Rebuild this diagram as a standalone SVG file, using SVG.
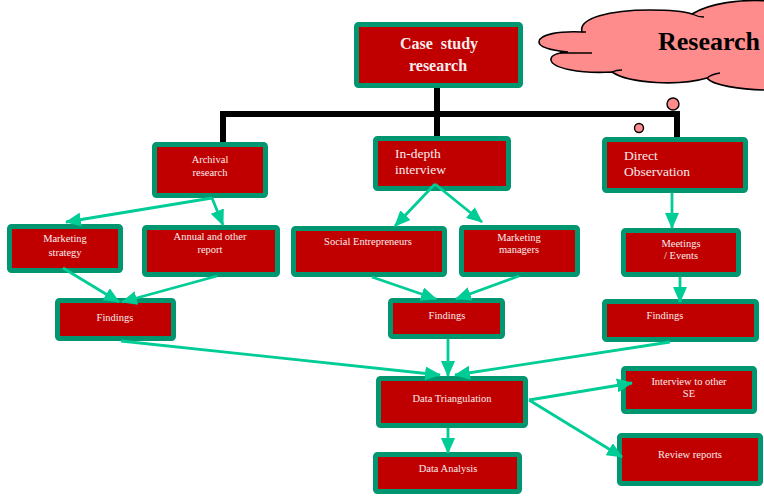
<svg xmlns="http://www.w3.org/2000/svg" width="764" height="501" viewBox="0 0 764 501">
<defs>
<style>
.box{fill:#C00000;stroke:#009670;stroke-width:5;}
.t{font-family:"Liberation Serif","Times New Roman",serif;fill:#f8ecec;text-anchor:middle;font-size:10.5px;}
.tl{font-family:"Liberation Serif","Times New Roman",serif;fill:#f8ecec;font-size:13.5px;}
.tb{font-family:"Liberation Serif","Times New Roman",serif;fill:#f8ecec;text-anchor:middle;font-size:16px;font-weight:bold;}
.c{stroke:#00CC96;stroke-width:2.8;fill:none;marker-end:url(#ah);}
.bar{stroke:#000;stroke-width:6;fill:none;stroke-linecap:square;}
</style>
<marker id="ah" markerUnits="userSpaceOnUse" markerWidth="16" markerHeight="14" refX="15" refY="7" orient="auto" viewBox="0 0 16 14">
<path d="M0,0 L16,7 L0,14 Z" fill="#00CC96"/>
</marker>
</defs>
<rect width="764" height="501" fill="#fff"/>

<g id="cloud">
<path d="M539,42 C539,34 560,31 582,32 C578,18 610,10 650,10 C672,10 686,12 692,14 C710,3 740,-1 770,1 L770,90 C740,90 712,85 707,78 C680,86 630,84 612,72 C580,74 552,68 551,60 C550,55 560,52 568,52 C548,50 539,47 539,42 Z" fill="#FF8C8C" stroke="#000" stroke-width="1.6"/>
<path d="M560,53 L592,53 M582,32 L586,32 M692,14 Q698,17 704,17 M612,72 Q616,70 622,70 M707,78 Q712,74 720,73" fill="none" stroke="#000" stroke-width="1.3"/>
<text x="658" y="50" font-family="Liberation Serif,'Times New Roman',serif" font-weight="bold" font-size="26" fill="#000">Research</text>
</g>

<g id="bars">
<path class="bar" d="M437,88 L437,139 M223,143 L223,114 L677,114 L677,140"/>
<circle cx="673" cy="104" r="6" fill="#FF8C8C" stroke="#000" stroke-width="1.4"/>
<circle cx="639" cy="128" r="4.5" fill="#FF8C8C" stroke="#000" stroke-width="1.4"/>
</g>

<g id="case">
<rect class="box" x="356.5" y="24.5" width="164" height="61" rx="2"/>
<text class="tb" x="439" y="49" word-spacing="4">Case study</text>
<text class="tb" x="438" y="71">research</text>
</g>

<g id="archival">
<rect class="box" x="154.5" y="144.5" width="111" height="51" rx="2"/>
<text class="t" x="210" y="163">Archival</text>
<text class="t" x="210" y="176">research</text>
</g>
<g id="indepth">
<rect class="box" x="375.5" y="138.5" width="133" height="50" rx="2"/>
<text class="tl" x="395" y="158">In-depth</text>
<text class="tl" x="395" y="174">interview</text>
</g>
<g id="direct">
<rect class="box" x="604.5" y="139.5" width="141" height="51" rx="2"/>
<text class="tl" x="624" y="160">Direct</text>
<text class="tl" x="624" y="176">Observation</text>
</g>

<g id="mstrategy">
<rect class="box" x="9.5" y="226.5" width="111" height="44" rx="2"/>
<text class="t" x="65" y="242">Marketing</text>
<text class="t" x="65" y="256">strategy</text>
</g>
<g id="annual">
<rect class="box" x="144.5" y="227.5" width="133" height="47" rx="2"/>
<text class="t" x="210" y="240">Annual and other</text>
<text class="t" x="210" y="253">report</text>
</g>
<g id="social">
<rect class="box" x="293.5" y="228.5" width="151" height="46" rx="2"/>
<text class="t" x="368" y="245">Social Entrepreneurs</text>
</g>
<g id="mmanagers">
<rect class="box" x="461.5" y="227.5" width="116" height="47" rx="2"/>
<text class="t" x="519" y="241">Marketing</text>
<text class="t" x="519" y="253">managers</text>
</g>
<g id="meetings">
<rect class="box" x="623.5" y="230.5" width="115" height="44" rx="2"/>
<text class="t" x="681" y="247">Meetings</text>
<text class="t" x="681" y="259">/ Events</text>
</g>

<g id="findings1">
<rect class="box" x="57.5" y="300.5" width="116" height="38" rx="2"/>
<text class="t" x="115" y="321">Findings</text>
</g>
<g id="findings2">
<rect class="box" x="390.5" y="300.5" width="112" height="36" rx="2"/>
<text class="t" x="447" y="319">Findings</text>
</g>
<g id="findings3">
<rect class="box" x="604.5" y="301.5" width="152" height="38" rx="2"/>
<text class="t" x="665" y="319">Findings</text>
</g>

<g id="triangulation">
<rect class="box" x="378.5" y="378.5" width="147" height="47" rx="2"/>
<text class="t" x="452" y="402">Data Triangulation</text>
</g>
<g id="analysis">
<rect class="box" x="375.5" y="454.5" width="144" height="37" rx="2"/>
<text class="t" x="448" y="472">Data Analysis</text>
</g>
<g id="interview">
<rect class="box" x="623.5" y="368.5" width="131" height="43" rx="2"/>
<text class="t" x="689" y="385">Interview to other</text>
<text class="t" x="689" y="397">SE</text>
</g>
<g id="review">
<rect class="box" x="619.5" y="435.5" width="141" height="48" rx="2"/>
<text class="t" x="690" y="458">Review reports</text>
</g>

<g id="connectors">
<path class="c" d="M212,198 L66,222"/>
<path class="c" d="M212,198 L223,225"/>
<path class="c" d="M63,268 L119,302"/>
<path class="c" d="M217,276 L122,302"/>
<path class="c" d="M435,184 L395,226"/>
<path class="c" d="M435,184 L482,222"/>
<path class="c" d="M372,277 L436,299"/>
<path class="c" d="M519,276 L456,299"/>
<path class="c" d="M672,193 L672,228"/>
<path class="c" d="M680,277 L680,302"/>
<path class="c" d="M121,341 L440,375"/>
<path class="c" d="M448,339 L448,376"/>
<path class="c" d="M670,342 L455,375"/>
<path class="c" d="M529,400 L632,383"/>
<path class="c" d="M529,400 L622,457"/>
<path class="c" d="M448,428 L448,453"/>
</g>
</svg>
